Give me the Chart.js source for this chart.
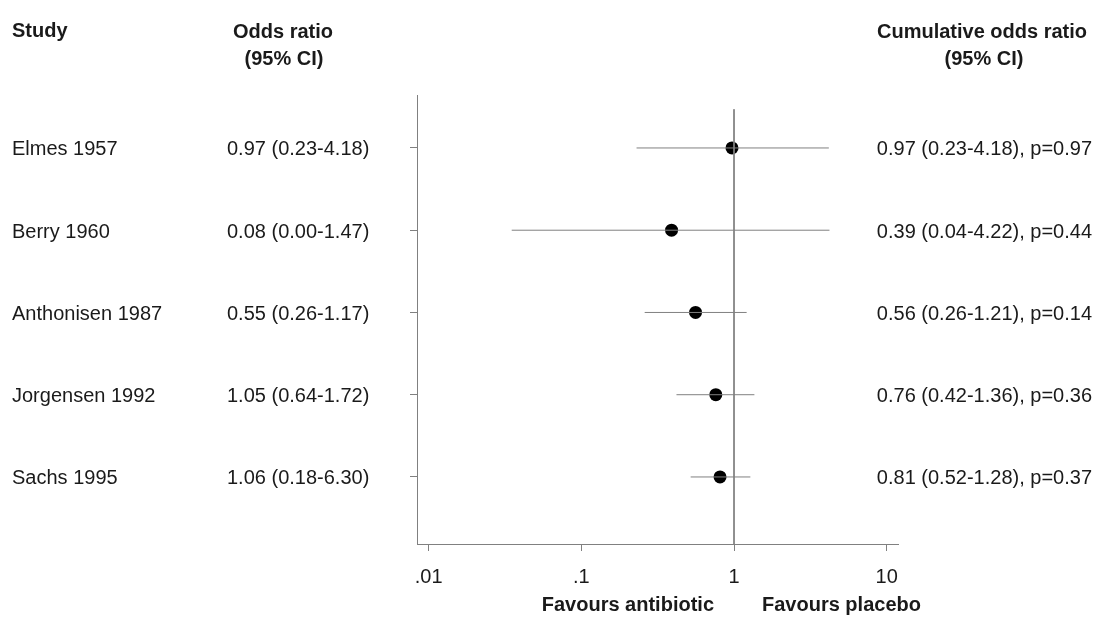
<!DOCTYPE html>
<html>
<head>
<meta charset="utf-8">
<script src="https://cdn.jsdelivr.net/npm/chart.js@4/dist/chart.umd.min.js"></script>
<style>
  html, body { margin: 0; padding: 0; background: #fff; }
  #wrap { width: 1100px; height: 621px; position: relative; }
</style>
</head>
<body>
<div id="wrap"><canvas id="c"></canvas></div>
<script>
// ---- data ----
const studies = ["Elmes 1957", "Berry 1960", "Anthonisen 1987", "Jorgensen 1992", "Sachs 1995"];
const studyORText = ["0.97 (0.23-4.18)", "0.08 (0.00-1.47)", "0.55 (0.26-1.17)", "1.05 (0.64-1.72)", "1.06 (0.18-6.30)"];
const cumORText = ["0.97 (0.23-4.18), p=0.97", "0.39 (0.04-4.22), p=0.44", "0.56 (0.26-1.21), p=0.14", "0.76 (0.42-1.36), p=0.36", "0.81 (0.52-1.28), p=0.37"];
const cumOR = [0.97, 0.39, 0.56, 0.76, 0.81];
const cumLo = [0.23, 0.035, 0.26, 0.42, 0.52];
const cumHi = [4.18, 4.22, 1.21, 1.36, 1.28];
const xTickValues = [0.01, 0.1, 1, 10];
const xTickLabels = [".01", ".1", "1", "10"];
const refValue = 1;

const FONT = '"Liberation Sans", Arial, Helvetica, sans-serif';
const TXT = '#1a1a1a';
const LINE = '#808080';

const datasets = [];
// reference line at OR = 1
datasets.push({
  type: 'line',
  data: [{x: refValue, y: 0.53}, {x: refValue, y: 5.815}],
  borderColor: LINE, borderWidth: 1, pointRadius: 0, showLine: true, clip: false
});
// CI lines
studies.forEach((s, i) => {
  datasets.push({
    type: 'line',
    data: [{x: cumLo[i], y: i + 1}, {x: cumHi[i], y: i + 1}],
    borderColor: LINE, borderWidth: 1, pointRadius: 0, showLine: true, clip: false
  });
});
// point estimates
datasets.push({
  type: 'scatter',
  data: cumOR.map((v, i) => ({x: v, y: i + 1})),
  backgroundColor: '#000', borderColor: '#000', borderWidth: 0,
  pointRadius: 6.5, pointHoverRadius: 6.5, clip: false
});

const textPlugin = {
  id: 'forestText',
  afterDraw(chart) {
    const ctx = chart.ctx;
    const y = chart.scales.y;
    const x = chart.scales.x;
    ctx.save();
    ctx.fillStyle = TXT;
    ctx.textBaseline = 'alphabetic';
    // headers
    ctx.font = 'bold 20px ' + FONT;
    ctx.textAlign = 'left';
    ctx.fillText('Study', 12, 37);
    ctx.textAlign = 'center';
    ctx.fillText('Odds ratio', 283, 38);
    ctx.fillText('(95% CI)', 284, 65);
    ctx.fillText('Cumulative odds ratio', 982, 38);
    ctx.fillText('(95% CI)', 984, 65);
    // rows
    ctx.font = '20px ' + FONT;
    studies.forEach((s, i) => {
      const py = y.getPixelForValue(i + 1) + 7.5;
      ctx.textAlign = 'left';
      ctx.fillText(s, 12, py);
      ctx.fillText(studyORText[i], 227, py);
      ctx.textAlign = 'right';
      ctx.fillText(cumORText[i], 1092, py);
    });
    // favours labels
    const px1 = x.getPixelForValue(refValue);
    ctx.font = 'bold 20px ' + FONT;
    ctx.textAlign = 'right';
    ctx.fillText('Favours antibiotic', px1 - 20, 611);
    ctx.textAlign = 'left';
    ctx.fillText('Favours placebo', px1 + 28, 611);
    ctx.restore();
  }
};

new Chart(document.getElementById('c'), {
  type: 'scatter',
  data: { datasets },
  options: {
    responsive: true,
    maintainAspectRatio: false,
    animation: false,
    events: [],
    layout: { padding: { top: 95, right: 202, bottom: 0, left: 0 } },
    plugins: { legend: { display: false }, tooltip: { enabled: false } },
    scales: {
      x: {
        type: 'logarithmic',
        position: 'bottom',
        min: 0.00839,
        max: 11.86,
        afterBuildTicks(scale) { scale.ticks = xTickValues.map(v => ({value: v})); },
        afterFit(scale) { scale.height = 77; },
        ticks: {
          autoSkip: false,
          maxRotation: 0,
          padding: 14,
          color: TXT,
          font: { family: FONT, size: 20 },
          callback(value) {
            const k = xTickValues.findIndex(t => Math.abs(t - value) / t < 1e-6);
            return k >= 0 ? xTickLabels[k] : '';
          }
        },
        grid: { drawOnChartArea: false, drawTicks: true, tickLength: 7, color: LINE },
        border: { display: true, color: LINE, width: 1 }
      },
      y: {
        type: 'linear',
        position: 'left',
        reverse: true,
        min: 0.356,
        max: 5.815,
        afterBuildTicks(scale) { scale.ticks = studies.map((s, i) => ({value: i + 1})); },
        afterFit(scale) { scale.width = 417; },
        ticks: { display: false },
        grid: { drawOnChartArea: false, drawTicks: true, tickLength: 7, color: LINE },
        border: { display: true, color: LINE, width: 1 }
      }
    }
  },
  plugins: [textPlugin]
});
</script>
</body>
</html>
